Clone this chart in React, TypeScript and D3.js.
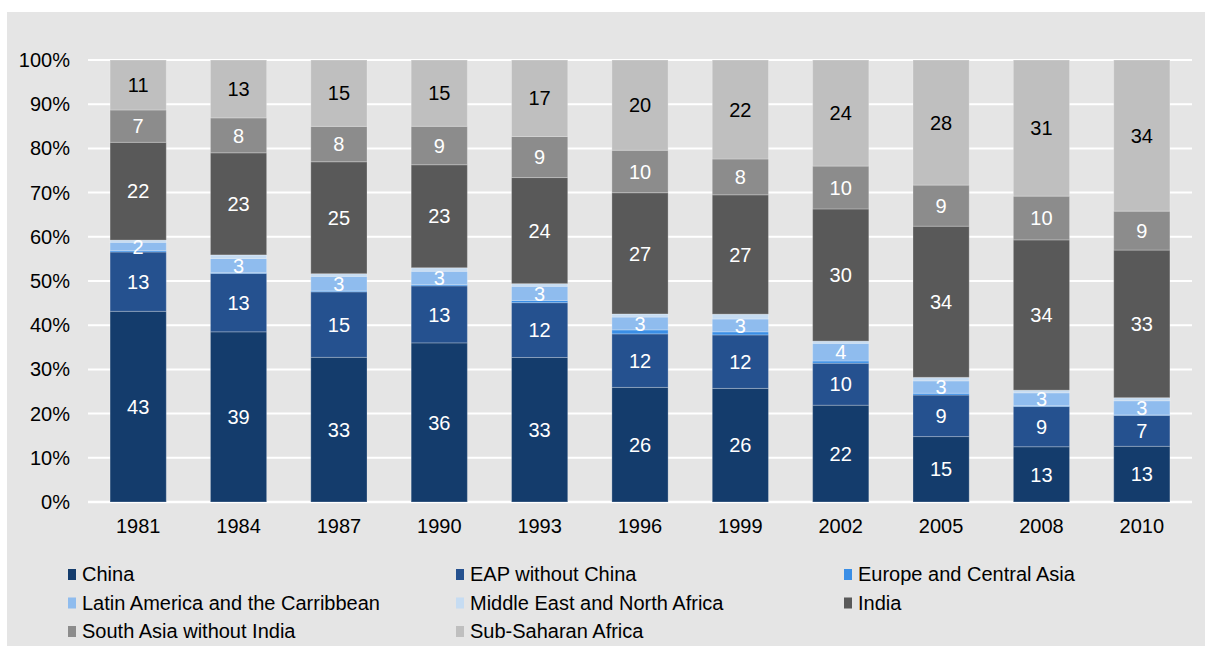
import React, { useEffect, useRef } from 'react';
import * as d3 from 'd3';

const years = ["1981", "1984", "1987", "1990", "1993", "1996", "1999", "2002", "2005", "2008", "2010"];

const regions = [
  "China",
  "EAP without China",
  "Europe and Central Asia",
  "Latin America and the Carribbean",
  "Middle East and North Africa",
  "India",
  "South Asia without India",
  "Sub-Saharan Africa",
];

const colors = ["#143c6c", "#25518f", "#3a8ee6", "#8fbcee", "#c6dcf2", "#595959", "#8c8c8c", "#bfbfbf"];
const labelColors = ["#fff", "#fff", "#fff", "#fff", "#fff", "#fff", "#fff", "#000"];

// share of poor people by region, per year (percent)
const china = [43.1, 38.5, 32.7, 36.0, 32.7, 25.9, 25.7, 21.9, 14.8, 12.5, 12.6];
const eapNoChina = [13.4, 13.2, 14.8, 12.9, 12.4, 12.1, 12.1, 9.5, 9.4, 9.1, 7.0];
const europeCentralAsia = [0.3, 0.2, 0.2, 0.3, 0.5, 0.9, 0.7, 0.5, 0.4, 0.2, 0.1];
const latinAmerica = [1.9, 3.2, 3.3, 3.0, 3.2, 2.9, 2.9, 4.0, 2.8, 2.9, 3.2];
const middleEast = [0.5, 0.8, 0.6, 0.8, 0.6, 0.7, 1.1, 0.5, 0.8, 0.6, 0.7];
const india = [22.1, 23.1, 25.3, 23.3, 24.0, 27.4, 27.0, 29.9, 34.2, 34.0, 33.4];
const southAsiaNoIndia = [7.3, 7.9, 8.0, 8.7, 9.3, 9.6, 8.1, 9.7, 9.3, 9.9, 8.8];
const subSaharan = [11.3, 13.1, 15.0, 15.0, 17.3, 20.4, 22.4, 24.0, 28.3, 30.8, 34.2];

const series = [china, eapNoChina, europeCentralAsia, latinAmerica, middleEast, india, southAsiaNoIndia, subSaharan];

const yTicks = [0, 0.1, 0.2, 0.3, 0.4, 0.5, 0.6, 0.7, 0.8, 0.9, 1];

const W = 1205;
const H = 646;
const FONT = "'Liberation Sans', Arial, sans-serif";
const FS = 20;

export default function App() {
  const ref = useRef<SVGSVGElement>(null);

  useEffect(() => {
    const svg = d3.select(ref.current);
    svg.selectAll("*").remove();

    svg.append("rect")
      .attr("x", 7).attr("y", 12)
      .attr("width", W - 7).attr("height", H - 12)
      .attr("fill", "#e5e5e5");

    const left = 88, right = 1192, top = 60, bottom = 502;

    const x = d3.scaleBand().domain(years).range([left, right]).paddingInner(0.44).paddingOuter(0.22);
    const y = d3.scaleLinear().domain([0, 1]).range([bottom, top]);

    const rows = years.map((yr, i) => {
      const row: any = { year: yr };
      regions.forEach((r, k) => (row[r] = series[k][i]));
      return row;
    });

    const stacked = d3.stack<any>().keys(regions).offset(d3.stackOffsetExpand)(rows);

    // gridlines
    svg.append("g")
      .selectAll("line")
      .data(yTicks)
      .join("line")
      .attr("x1", left).attr("x2", right)
      .attr("y1", d => y(d)).attr("y2", d => y(d))
      .attr("stroke", "#fff")
      .attr("stroke-width", d => (d === 0 ? 2.5 : 2));

    svg.append("g")
      .attr("font-family", FONT)
      .attr("font-size", FS)
      .attr("text-anchor", "end")
      .selectAll("text")
      .data(yTicks)
      .join("text")
      .attr("x", 70)
      .attr("y", d => y(d))
      .attr("dy", "0.35em")
      .attr("fill", "#000")
      .text(d => d3.format(".0%")(d));

    svg.append("g")
      .attr("font-family", FONT)
      .attr("font-size", FS)
      .attr("text-anchor", "middle")
      .selectAll("text")
      .data(years)
      .join("text")
      .attr("x", d => x(d)! + x.bandwidth() / 2)
      .attr("y", 526)
      .attr("dy", "0.35em")
      .text(d => d);

    const layers = svg.append("g")
      .selectAll("g")
      .data(stacked)
      .join("g")
      .attr("fill", (d, i) => colors[i]);

    layers.selectAll("rect")
      .data(d => d)
      .join("rect")
      .attr("x", d => x(d.data.year)!)
      .attr("width", x.bandwidth())
      .attr("y", d => y(d[1]))
      .attr("height", d => y(d[0]) - y(d[1]))
      .attr("stroke", "#ffffff")
      .attr("stroke-opacity", 0.25)
      .attr("stroke-width", 1);

    const labels = svg.append("g")
      .attr("font-family", FONT)
      .attr("font-size", FS)
      .attr("text-anchor", "middle");

    stacked.forEach((layer, k) => {
      labels.selectAll(null)
        .data(layer.filter(d => d.data[regions[k]] >= 1.5))
        .join("text")
        .attr("x", d => x(d.data.year)! + x.bandwidth() / 2)
        .attr("y", d => (y(d[0]) + y(d[1])) / 2)
        .attr("dy", "0.36em")
        .attr("fill", labelColors[k])
        .text(d => Math.round(d.data[regions[k]]));
    });

    // legend
    const colX = [68, 456, 844];
    const legend = svg.append("g")
      .attr("font-family", FONT)
      .attr("font-size", FS);
    const items = legend.selectAll("g")
      .data(regions)
      .join("g")
      .attr("transform", (d, i) => `translate(${colX[i % 3]},${574 + Math.floor(i / 3) * 28.5})`);
    items.append("rect")
      .attr("x", 0).attr("y", -5)
      .attr("width", 8).attr("height", 11)
      .attr("fill", (d, i) => colors[i]);
    items.append("text")
      .attr("x", 14)
      .attr("y", 0)
      .attr("dy", "0.35em")
      .text(d => d);
  }, []);

  return (
    <svg
      ref={ref}
      width={W}
      height={H}
      style={{ position: "absolute", left: 0, top: 0, display: "block" }}
    />
  );
}
